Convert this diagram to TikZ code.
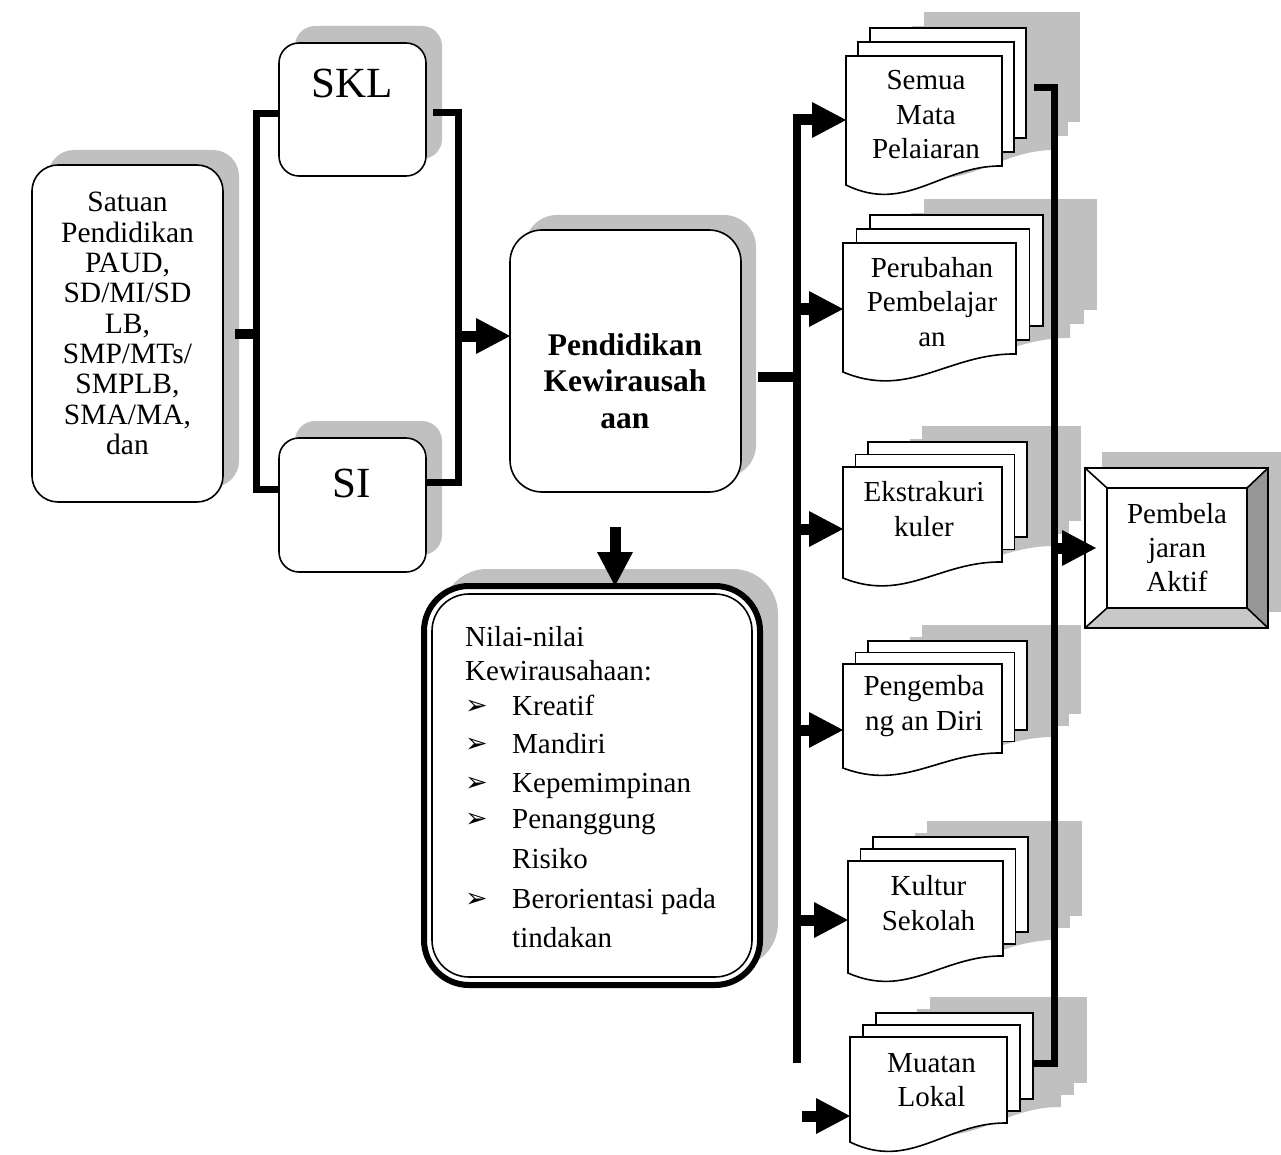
\documentclass[tikz,border=0pt]{standalone}
\usepackage{fontspec}
\setmainfont{Liberation Serif}
\newfontfamily\dejavu{DejaVu Sans}
\usetikzlibrary{arrows.meta,calc,shadows}
\definecolor{shd}{RGB}{192,192,192}
\definecolor{bevR}{RGB}{150,150,150}
\definecolor{bevB}{RGB}{200,200,200}
\newcommand\bul{\makebox[47pt][l]{\raisebox{1pt}{\dejavu\fontsize{27}{27}\selectfont ➢}}}
\newcommand\docstack[8]{%
  \pgfmathsetmacro\dR{#2+#4}%
  \pgfmathsetmacro\dB{#3+#5}%
  \pgfmathsetmacro\dLB{#3+#5+#8}%
  \pgfmathsetmacro\cAx{#2+0.61*#4}%
  \pgfmathsetmacro\cAy{#3+#5-1}%
  \pgfmathsetmacro\cBx{#2+0.385*#4}%
  \pgfmathsetmacro\cBy{#3+#5+2.55*#8}%
  \pgfmathsetmacro\mL{#2+#6}\pgfmathsetmacro\mT{#3-#7}%
  \pgfmathsetmacro\mR{\dR+#6}\pgfmathsetmacro\mB{\dB-#7}%
  \pgfmathsetmacro\bL{#2+2*#6}\pgfmathsetmacro\bT{#3-2*#7}%
  \pgfmathsetmacro\bR{\dR+2*#6}\pgfmathsetmacro\bB{\dB-2*#7}%
  \begin{scope}[shift={(54,-16)}]
    \fill[shd] (\bL,\bT) rectangle (\bR,\bB);
    \fill[shd] (\mL,\mT) rectangle (\mR,\mB);
    \fill[shd] (#2,#3) -- (\dR,#3) -- (\dR,\dB) .. controls (\cAx,\cAy) and (\cBx,\cBy) .. (#2,\dLB) -- cycle;
  \end{scope}
  \draw[page] (\bL,\bT) rectangle (\bR,\bB);
  \draw[page] (\mL,\mT) rectangle (\mR,\mB);
  \draw[page] (#2,#3) -- (\dR,#3) -- (\dR,\dB) .. controls (\cAx,\cAy) and (\cBx,\cBy) .. (#2,\dLB) -- cycle;
  \node[inner sep=0pt, outer sep=0pt, minimum width=#4, minimum height=#5, anchor=north west] (#1) at (#2,#3) {};
}
\begin{document}
\begin{tikzpicture}[x=1pt,y=-1pt,
  rbox/.style={draw, line width=1.6pt, fill=white, rounded corners=#1, inner sep=0pt, outer sep=0pt},
  page/.style={draw, fill=white, line width=1.6pt, line join=miter},
  arr/.style={line width=11pt, -{Triangle[length=34pt 0, width=36pt 0, line width=0pt]}},
  bar/.style={line width=7pt, line join=miter},
  thickbar/.style={line width=10pt},
  txt/.style={font=\fontsize{29}{34.5}\selectfont, align=center, inner sep=0pt},
  ntxt/.style={font=\fontsize{29}{34.5}\selectfont, anchor=base west, inner sep=0pt}]
\useasboundingbox (0,0) rectangle (1281,1155);

% left box
\node[rbox=26pt, minimum width=191, minimum height=337,
  drop shadow={shadow xshift=16pt, shadow yshift=15pt, fill=shd, opacity=1}] (sat) at (127.5,333.5) {};
\node[font=\fontsize{29.5}{30.3}\selectfont, align=center, inner sep=0pt] (satt) at (127.5,323.5)
  {Satuan\\Pendidikan\\PAUD,\\SD/MI/SD\\LB,\\SMP/MTs/\\SMPLB,\\SMA/MA,\\dan};

% SKL and SI
\node[rbox=20pt, minimum width=147, minimum height=133,
  drop shadow={shadow xshift=16pt, shadow yshift=17pt, fill=shd, opacity=1}] (skl) at (352.5,109.5) {};
\node[font=\fontsize{43}{47}\selectfont, inner sep=0pt] (sklt) at (352,83) {SKL};
\node[rbox=20pt, minimum width=147, minimum height=134,
  drop shadow={shadow xshift=16pt, shadow yshift=17pt, fill=shd, opacity=1}] (si) at (352.5,505) {};
\node[font=\fontsize{43}{47}\selectfont, inner sep=0pt] (sit) at (352,483) {SI};

% main box
\node[rbox=32pt, minimum width=231, minimum height=262,
  drop shadow={shadow xshift=15pt, shadow yshift=15pt, fill=shd, opacity=1}] (main) at (625.5,361) {};
\node[font=\bfseries\fontsize{31.5}{36.5}\selectfont, align=center, inner sep=0pt] (maint) at (625,381)
  {Pendidikan\\Kewirausah\\aan};

% Nilai box
\node[draw, line width=6pt, fill=white, rounded corners=45pt, inner sep=0pt, outer sep=0pt,
  minimum width=336, minimum height=399,
  drop shadow={shadow xshift=18pt, shadow yshift=17pt, fill=shd, opacity=1}] (nilai) at (592,785.5) {};
\draw[line width=1.6pt, rounded corners=37pt] ([shift={(8,8)}]nilai.north west) rectangle ([shift={(-8,-8)}]nilai.south east);
\node[ntxt] (n1) at (465,646) {Nilai-nilai};
\node[ntxt] (n2) at (465,680) {Kewirausahaan:};
\node[ntxt] (n3) at (465,715) {\bul Kreatif};
\node[ntxt] (n4) at (465,753) {\bul Mandiri};
\node[ntxt] (n5) at (465,792) {\bul Kepemimpinan};
\node[ntxt] (n6) at (465,828) {\bul Penanggung};
\node[ntxt] (n7) at (512,868) {Risiko};
\node[ntxt] (n8) at (465,908) {\bul Berorientasi pada};
\node[ntxt] (n9) at (512,947) {tindakan};

% document stacks
\docstack{d1}{846}{56}{156}{110}{12}{14}{19}
\docstack{d2}{843}{243}{173}{111}{13.5}{14}{18}
\docstack{d3}{843}{467}{159}{95}{12.5}{12.5}{16}
\docstack{d4}{843}{664}{159}{89}{12.5}{11.5}{15}
\docstack{d5}{848}{861}{155}{95}{12.5}{12}{17}
\docstack{d6}{850}{1037}{157}{86}{13}{12}{19}
\node[txt] (t1) at (926,115) {Semua\\Mata\\Pelaiaran};
\node[txt] (t2) at (932,302) {Perubahan\\Pembelajar\\an};
\node[txt] (t3) at (924,509) {Ekstrakuri\\kuler};
\node[txt] (t4) at (924,706) {Pengemba\\ng an Diri};
\node[txt] (t5) at (928.5,903) {Kultur\\Sekolah};
\node[txt] (t6) at (931.5,1080) {Muatan\\Lokal};

% Pembelajaran Aktif bevel box
\begin{scope}[shift={(17,-16)}]
  \fill[shd] (1085,468) rectangle (1268,628);
\end{scope}
\node[draw, line width=1.6pt, fill=white, inner sep=0pt, outer sep=0pt, minimum width=183, minimum height=160] (pemb) at (1176.5,548) {};
\fill[bevB] (1085,628) -- (1268,628) -- (1247,608) -- (1107,608) -- cycle;
\fill[bevR] (1268,468) -- (1268,628) -- (1247,608) -- (1247,488) -- cycle;
\draw[line width=1.6pt] (1107,488) rectangle (1247,608);
\draw[line width=1.6pt] (1085,468) -- (1107,488) (1268,468) -- (1247,488) (1085,628) -- (1107,608) (1268,628) -- (1247,608);
\draw[line width=1.6pt] (pemb.north west) rectangle (pemb.south east);
\node[txt, font=\fontsize{29}{34}\selectfont] (pembt) at (1177,548) {Pembela\\jaran\\Aktif};

% brackets around SKL / SI
\coordinate (lbr) at (256,333.5);
\coordinate (lbt) at (256,114);
\coordinate (lbb) at (256,489);
\coordinate (rbt) at (458,113);
\coordinate (rbb) at (458,482);
\coordinate (rbr) at (458,336);
\draw[thickbar] ([xshift=12pt]sat.east) -- (lbr);
\draw[bar] ([yshift=-4.5pt]skl.west) -- (lbt) -- (lbb) -- (lbb -| si.west);
\draw[bar] ([xshift=7pt,yshift=-3.5pt]skl.east) -- (rbt) -- (rbb) -- (rbb -| si.east);
\draw[arr] (rbr) -- (rbr -| main.west);

% down arrow
\coordinate (dn) at (615,527);
\draw[arr] (dn) -- (dn |- nilai.north);

% left bus
\coordinate (lbtop) at (797,114.5);
\coordinate (lbbot) at (797,1063);
\coordinate (lbm) at (797,377);
\draw[thickbar] ([xshift=17pt,yshift=-16pt]main.east) -- (lbm);
\draw[line width=8pt] (lbtop) -- (lbbot);
\coordinate (a1) at ($(d1.north west)+(0,64)$);
\coordinate (a2) at ($(d2.north west)+(0,66)$);
\coordinate (a3) at ($(d3.north west)+(0,62)$);
\coordinate (a4) at ($(d4.north west)+(0,66)$);
\coordinate (a5) at ($(d5.north west)+(0,59)$);
\coordinate (m0) at (802,1116);
\draw[arr] (lbtop |- a1) -- (a1);
\draw[arr] (lbbot |- a2) -- (a2);
\draw[arr] (lbbot |- a3) -- (a3);
\draw[arr] (lbbot |- a4) -- (a4);
\draw[arr] (lbbot |- a5) -- (a5);
\draw[arr] (m0) -- (m0 -| d6.west);

% right bus
\coordinate (rtop) at (1034,88);
\coordinate (rbus1) at (1054,88);
\coordinate (rbus2) at (1054,1063);
\coordinate (rbot) at (1034,1063);
\draw[bar] (rtop) -- (rbus1) -- (rbus2) -- (rbot);
\draw[arr] (rbus1 |- pemb.west) -- ([xshift=11pt]pemb.west);
\end{tikzpicture}
\end{document}
